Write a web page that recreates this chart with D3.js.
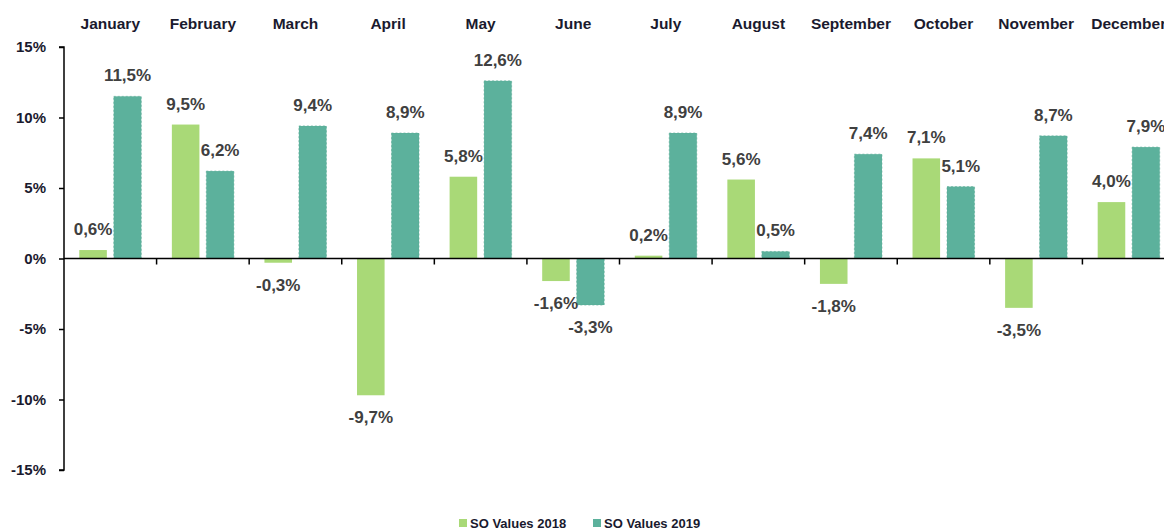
<!DOCTYPE html>
<html><head><meta charset="utf-8">
<script src="https://cdn.jsdelivr.net/npm/d3@7"></script>
<style>
body{margin:0;background:#fff;}
svg{display:block;}
text{font-family:"Liberation Sans",Arial,sans-serif;font-weight:bold;}
</style></head>
<body>
<svg id="chart" width="1164" height="531"></svg>
<script>
const months = ["January","February","March","April","May","June","July","August","September","October","November","December"];
const seriesNames = ["SO Values 2018","SO Values 2019"];
const values2018 = [0.6, 9.5, -0.3, -9.7, 5.8, -1.6, 0.2, 5.6, -1.8, 7.1, -3.5, 4.0];
const values2019 = [11.5, 6.2, 9.4, 8.9, 12.6, -3.3, 8.9, 0.5, 7.4, 5.1, 8.7, 7.9];
const yTicks = [15, 10, 5, 0, -5, -10, -15];
const colors = ["#a9d977", "#5cb19c"];

const svg = d3.select("#chart");
const mLeft = 64, mRight = 1175, mTop = 47, mBottom = 470;

const y = d3.scaleLinear().domain([-15, 15]).range([mBottom, mTop]);
const x0 = d3.scaleBand().domain(months).range([mLeft, mRight]).padding(0);
const cw = x0.bandwidth();
const x1 = d3.scaleBand().domain(seriesNames).range([cw*0.165, cw*0.835]).paddingInner(0.2).paddingOuter(0);

const fmt = v => (v < 0 ? "-" : "") + Math.abs(v).toFixed(1).replace(".", ",") + "%";

const data = months.map((m, i) => ({ month: m, vals: [values2018[i], values2019[i]] }));

// y axis
const yAxis = d3.axisLeft(y).tickValues(yTicks).tickSize(5).tickPadding(13)
  .tickFormat(d => d + "%");
const ya = svg.append("g").attr("transform", `translate(${mLeft},0)`).call(yAxis);
ya.select(".domain").attr("stroke", "#000").attr("stroke-width", 1.5).attr("d", `M-5,${mTop}H0V${mBottom}H-5`);
ya.selectAll(".tick line").attr("stroke", "#000").attr("stroke-width", 1.5);
ya.selectAll(".tick text").attr("fill", "#1a1a2e").style("font-size", "15px").style("font-family", '"Liberation Sans",Arial,sans-serif').style("font-weight", "bold");

// month labels at top
svg.append("g").selectAll("text").data(months).join("text")
  .attr("x", d => x0(d) + cw/2).attr("y", 29)
  .attr("text-anchor", "middle").attr("fill", "#1a1a2e")
  .style("font-size", "15.5px").text(d => d);

// bars
const groups = svg.append("g").selectAll("g").data(data).join("g")
  .attr("transform", d => `translate(${x0(d.month)},0)`);
groups.selectAll("rect").data(d => d.vals.map((v, j) => ({ v, s: seriesNames[j], j })))
  .join("rect")
  .attr("x", d => x1(d.s)).attr("width", x1.bandwidth())
  .attr("y", d => y(Math.max(0, d.v))).attr("height", d => Math.abs(y(d.v) - y(0)))
  .attr("fill", d => colors[d.j])
  .attr("stroke", d => d.j === 1 ? "#58a993" : "none")
  .attr("stroke-width", 0.6).attr("stroke-dasharray", "2,2");

// value labels
groups.selectAll("text").data(d => d.vals.map((v, j) => ({ v, s: seriesNames[j], j })))
  .join("text")
  .attr("x", d => x1(d.s) + x1.bandwidth()/2)
  .attr("y", d => d.v >= 0 ? y(d.v) - 15 : y(d.v) + 28)
  .attr("text-anchor", "middle").attr("fill", "#404040")
  .style("font-size", "17px").text(d => fmt(d.v));

// zero axis with category ticks
svg.append("line").attr("x1", mLeft).attr("x2", mRight).attr("y1", y(0)).attr("y2", y(0))
  .attr("stroke", "#000").attr("stroke-width", 1.5);
svg.append("g").selectAll("line").data(months).join("line")
  .attr("x1", d => x0(d) + cw).attr("x2", d => x0(d) + cw)
  .attr("y1", y(0)).attr("y2", y(0) + 6).attr("stroke", "#000").attr("stroke-width", 1.5);

// legend
const legend = svg.append("g");
const legX = [459, 593];
seriesNames.forEach((s, j) => {
  legend.append("rect").attr("x", legX[j]).attr("y", 519).attr("width", 8).attr("height", 8).attr("fill", colors[j]);
  legend.append("text").attr("x", legX[j] + 11).attr("y", 528).attr("fill", "#1a1a2e")
    .style("font-size", "13px").text(s);
});
</script>
</body></html>
